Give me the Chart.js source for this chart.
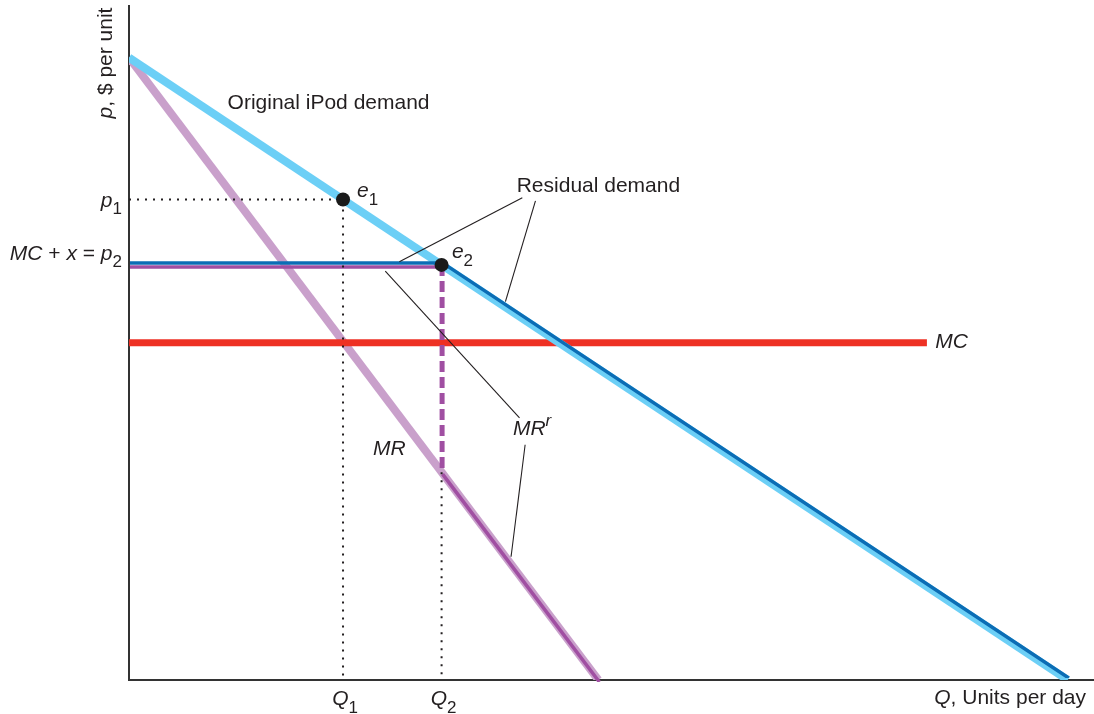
<!DOCTYPE html>
<html>
<head>
<meta charset="utf-8">
<script src="https://cdn.jsdelivr.net/npm/chart.js@4.4.1/dist/chart.umd.min.js"></script>
<style>
  html, body { margin: 0; padding: 0; background: #fff; }
  #wrap { width: 1094px; height: 714px; position: relative; }
</style>
</head>
<body>
<div id="wrap"><canvas id="iPodChart"></canvas></div>
<script>
// Linear demand p = 100 - Q, marginal revenue p = 100 - 2Q
var demandQ = [0, 100];
var demandP = [100, 0];
var mrQ = [0, 50];
var mrP = [100, 0];
var mcQ = [0, 85];
var mcP = [54.2, 54.2];

// equilibrium quantities and prices
var Q1 = 22.8, p1 = 77.2;
var Q2 = 33.3, p2 = 66.7;

// residual demand (kinked at e2) and residual marginal revenue
var residualQ = [0, Q2, 100];
var residualP = [p2, p2, 0];
var mrrQ = [0, Q2, Q2, 50];
var mrrP = [p2, p2, 33.4, 0];

var pointQ = [Q1, Q2];
var pointP = [p1, p2];

var xMax = 102.8, yMax = 108.3;

var fontFam = '"Liberation Sans", Arial, Helvetica, sans-serif';
var ink = "#231f20";

function pts(xs, ys) {
  return xs.map(function (x, i) { return { x: x, y: ys[i] }; });
}

// MR^r: solid flat part and solid lower part, with the jump (index 1 -> 2) dashed
var mrrAll = pts(mrrQ, mrrP);
var mrrSolid = [mrrAll[0], mrrAll[1], { x: Q2, y: null }, mrrAll[2], mrrAll[3]];
var mrrJump = [mrrAll[1], mrrAll[2]];

function fontFor(part, size) {
  var s = (part.sub || part.sup) ? Math.round(size * 0.8) : size;
  return (part.i ? "italic " : "") + s + "px " + fontFam;
}

function drawRich(ctx, parts, x, y, size, align) {
  var w = 0;
  parts.forEach(function (p) { ctx.font = fontFor(p, size); w += ctx.measureText(p.t).width; });
  var cx = align === "right" ? x - w : (align === "center" ? x - w / 2 : x);
  ctx.textAlign = "left";
  ctx.textBaseline = "alphabetic";
  parts.forEach(function (p) {
    ctx.font = fontFor(p, size);
    var dy = p.sub ? size * 0.36 : (p.sup ? -size * 0.4 : 0);
    ctx.fillText(p.t, cx, y + dy);
    cx += ctx.measureText(p.t).width;
  });
}

// labels placed in data units inside the plot
var plotLabels = [
  { parts: [{ t: "Original iPod demand" }], q: 10.5, p: 91.8 },
  { parts: [{ t: "Residual demand" }], q: 41.3, p: 78.4 },
  { parts: [{ t: "e", i: true }, { t: "1", sub: true }], q: 24.3, p: 77.6 },
  { parts: [{ t: "e", i: true }, { t: "2", sub: true }], q: 34.4, p: 67.8 },
  { parts: [{ t: "MC", i: true }], q: 85.9, p: 53.4 },
  { parts: [{ t: "MR", i: true }], q: 26.0, p: 36.2 },
  { parts: [{ t: "MR", i: true }, { t: "r", i: true, sup: true }], q: 40.9, p: 39.4 }
];

// leader lines from labels to curves
var leaders = [
  [41.9, 77.5, 28.8, 67.2],
  [43.3, 77.0, 40.1, 60.8],
  [41.6, 42.1, 27.3, 65.7],
  [42.2, 37.8, 40.7, 19.8]
];

var nudgePlugin = {
  id: "nudge",
  beforeDatasetDraw: function (chart, args) {
    var ds = chart.data.datasets[args.index];
    chart.ctx.save();
    if (ds.nudge) chart.ctx.translate(ds.nudge[0], ds.nudge[1]);
  },
  afterDatasetDraw: function (chart) {
    chart.ctx.restore();
  }
};

var textPlugin = {
  id: "econText",
  afterDatasetsDraw: function (chart) {
    var ctx = chart.ctx, xs = chart.scales.x, ys = chart.scales.y, area = chart.chartArea;
    ctx.save();
    ctx.strokeStyle = ink;
    ctx.lineWidth = 1.1;
    leaders.forEach(function (l) {
      ctx.beginPath();
      ctx.moveTo(xs.getPixelForValue(l[0]), ys.getPixelForValue(l[1]));
      ctx.lineTo(xs.getPixelForValue(l[2]), ys.getPixelForValue(l[3]));
      ctx.stroke();
    });
    ctx.fillStyle = ink;
    plotLabels.forEach(function (lb) {
      drawRich(ctx, lb.parts, xs.getPixelForValue(lb.q), ys.getPixelForValue(lb.p), 21, "left");
    });
    // axis-side labels
    drawRich(ctx, [{ t: "p", i: true }, { t: "1", sub: true }],
      area.left - 7, ys.getPixelForValue(p1) + 7, 21, "right");
    drawRich(ctx, [{ t: "MC", i: true }, { t: " + " }, { t: "x", i: true }, { t: " = " }, { t: "p", i: true }, { t: "2", sub: true }],
      area.left - 7, ys.getPixelForValue(p2) - 5, 21, "right");
    drawRich(ctx, [{ t: "Q", i: true }, { t: "1", sub: true }],
      xs.getPixelForValue(Q1) + 2, area.bottom + 25, 21, "center");
    drawRich(ctx, [{ t: "Q", i: true }, { t: "2", sub: true }],
      xs.getPixelForValue(Q2) + 2, area.bottom + 25, 21, "center");
    drawRich(ctx, [{ t: "Q", i: true }, { t: ", Units per day" }],
      area.right - 8, area.bottom + 24, 21, "right");
    ctx.translate(area.left - 17, area.top + 57);
    ctx.rotate(-Math.PI / 2);
    drawRich(ctx, [{ t: "p", i: true }, { t: ", $ per unit" }], 0, 0, 21, "center");
    ctx.restore();
  }
};

var ctx = document.getElementById("iPodChart").getContext("2d");
var iPodChart = new Chart(ctx, {
  type: "scatter",
  data: {
    // first dataset is drawn on top
    datasets: [
      { data: pts(pointQ, pointP), pointRadius: 7, pointBackgroundColor: "#1a1a1a", pointBorderWidth: 0, showLine: false },
      { data: mrrJump, borderColor: "#a04fa2", borderWidth: 5, borderDash: [11, 5], borderCapStyle: "butt", pointRadius: 0, showLine: true, clip: 0, nudge: [0.5, 0] },
      { data: pts([Q2, Q2], [mrrP[2], 0]), borderColor: ink, borderWidth: 2, borderDash: [2, 6], pointRadius: 0, showLine: true, clip: 0 },
      { data: pts([0, Q1, Q1], [p1, p1, 0]), borderColor: ink, borderWidth: 2, borderDash: [2, 6], pointRadius: 0, showLine: true, clip: 0 },
      { data: mrrSolid, borderColor: "#a04fa2", borderWidth: 3.5, pointRadius: 0, showLine: true, spanGaps: false, clip: 0, nudge: [1, 2] },
      { data: pts(residualQ, residualP), borderColor: "#0b6db5", borderWidth: 3.5, pointRadius: 0, showLine: true, clip: 0, nudge: [1, -2] },
      { data: pts(demandQ, demandP), borderColor: "#6ccff6", borderWidth: 8, pointRadius: 0, showLine: true, clip: 0 },
      { data: pts(mcQ, mcP), borderColor: "#ee3124", borderWidth: 7, pointRadius: 0, showLine: true, clip: 0, borderCapStyle: "butt" },
      { data: pts(mrQ, mrP), borderColor: "#c9a0cb", borderWidth: 8, pointRadius: 0, showLine: true, clip: 0 }
    ]
  },
  options: {
    responsive: true,
    maintainAspectRatio: false,
    animation: false,
    layout: { autoPadding: false, padding: { left: 129, right: 0, top: 6, bottom: 34 } },
    plugins: { legend: { display: false }, tooltip: { enabled: false } },
    scales: {
      x: {
        type: "linear", min: 0, max: xMax,
        grid: { display: false, drawTicks: false },
        ticks: { display: false },
        border: { display: true, color: "#333", width: 2 }
      },
      y: {
        type: "linear", min: 0, max: yMax,
        grid: { display: false, drawTicks: false },
        ticks: { display: false },
        border: { display: true, color: "#333", width: 2 }
      }
    }
  },
  plugins: [nudgePlugin, textPlugin]
});
</script>
</body>
</html>
